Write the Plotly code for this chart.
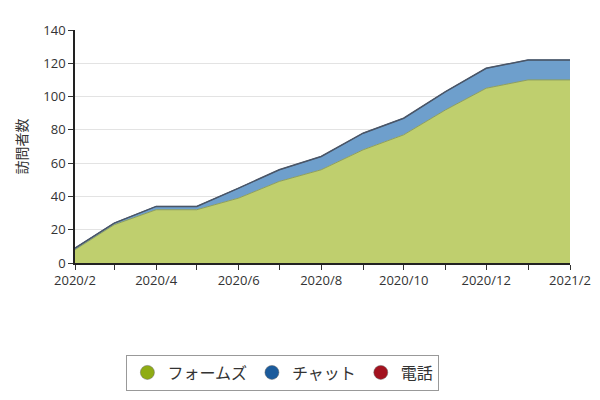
import plotly.graph_objects as go

# monthly visitors, stacked
months = ["2020-02-01", "2020-03-01", "2020-04-01", "2020-05-01", "2020-06-01",
          "2020-07-01", "2020-08-01", "2020-09-01", "2020-10-01", "2020-11-01",
          "2020-12-01", "2021-01-01", "2021-02-01"]
forms = [8, 23, 32, 32, 39, 49, 56, 68, 77, 92, 105, 110, 110]
chat = [1, 1, 2, 2, 6, 7, 8, 10, 10, 11, 12, 12, 12]
phone = [0, 0, 0, 0, 0, 0, 0, 0, 0, 0, 0, 0, 0]

tick_vals = ["2020-02-01", "2020-04-01", "2020-06-01", "2020-08-01",
             "2020-10-01", "2020-12-01", "2021-02-01"]
tick_text = ["2020/2", "2020/4", "2020/6", "2020/8", "2020/10", "2020/12", "2021/2"]

fig = go.Figure()
fig.add_trace(go.Scatter(x=months, y=forms, name="フォームズ", stackgroup="one",
                         mode="lines", line=dict(color="#8f9f5a", width=1),
                         fillcolor="#bfcf6e", showlegend=False))
fig.add_trace(go.Scatter(x=months, y=chat, name="チャット", stackgroup="one",
                         mode="lines", line=dict(color="#4d6f95", width=1),
                         fillcolor="#6e9fcc", showlegend=False))
fig.add_trace(go.Scatter(x=months, y=phone, name="電話", stackgroup="one",
                         mode="lines", line=dict(color="#4a5566", width=1.5),
                         fillcolor="rgba(160,20,30,0.6)", showlegend=False))

# legend entries drawn as circles
for name, col in [("フォームズ", "#8fac14"), ("チャット", "#1b5b9c"), ("電話", "#a3121f")]:
    fig.add_trace(go.Scatter(x=[None], y=[None], name=name, mode="markers",
                             marker=dict(color=col, size=14, line=dict(color="#666", width=0.5))))

fig.update_layout(
    width=600, height=400,
    margin=dict(l=67, r=38, t=22, b=145),
    paper_bgcolor="white", plot_bgcolor="white",
    font=dict(family="Open Sans, Noto Sans CJK JP", size=13, color="#333"),
    showlegend=True,
    legend=dict(orientation="h", traceorder="normal", x=0.42, xanchor="center",
                y=-0.47, yanchor="middle", itemwidth=30,
                bordercolor="#999", borderwidth=1,
                font=dict(family="Noto Sans CJK JP", size=16, color="#333")),
)
fig.update_xaxes(range=["2020-02-01", "2021-02-01"], tickvals=tick_vals, ticktext=tick_text,
                 ticks="outside", ticklen=5, tickcolor="#333", showline=True, linecolor="#222",
                 linewidth=1.5, showgrid=False,
                 minor=dict(dtick="M1", tick0="2020-02-01", ticks="outside", ticklen=5,
                            tickcolor="#333", showgrid=False))
fig.update_yaxes(range=[0, 140], dtick=20, ticks="outside", ticklen=5, tickcolor="#333",
                 showline=True, linecolor="#222", linewidth=1.5,
                 gridcolor="#e3e3e3",
                 title=dict(text="訪問者数", standoff=12,
                            font=dict(family="Noto Sans CJK JP", size=14, color="#333")))

fig.write_html("out.html")
